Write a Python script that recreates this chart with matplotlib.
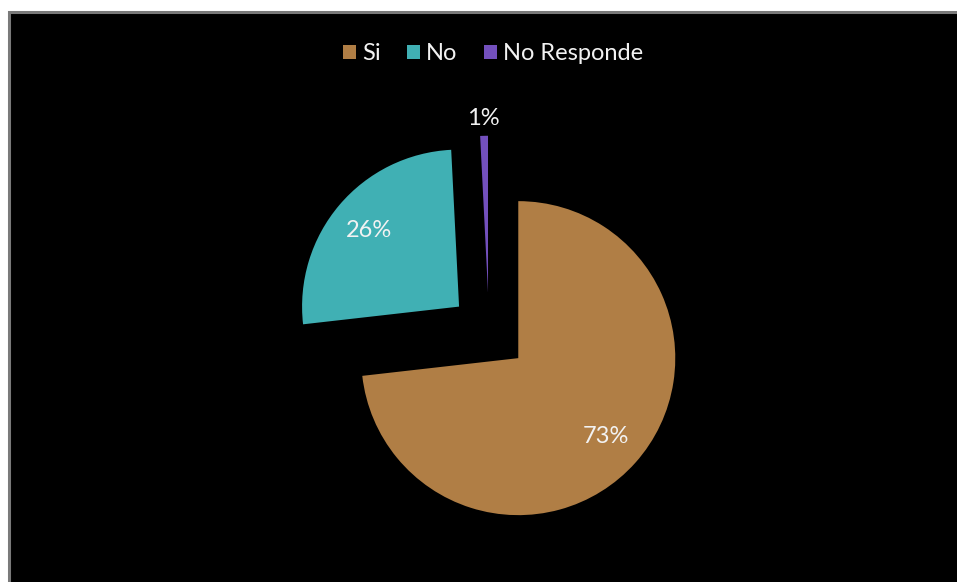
import math
import matplotlib
matplotlib.use("Agg")
import matplotlib.pyplot as plt
from matplotlib.patches import Rectangle

categories = ["Si", "No", "No Responde"]
values = [73.2, 26.0, 0.8]
colors = ["#B07E45", "#40B0B4", "#7350BD"]

W, H = 957, 582
plt.rcParams['font.family'] = ['Lato', 'DejaVu Sans']
fig = plt.figure(figsize=(W / 100, H / 100), dpi=100, facecolor="white")

# dark chart frame
frame = Rectangle((8.5 / W, -0.05), 1.2, (H - 11.5) / H + 0.05, transform=fig.transFigure,
                  facecolor="black", edgecolor="#7a7a7a", linewidth=2.2, zorder=-1)
fig.patches.append(frame)

ax = fig.add_axes([0, 0, 1, 1])
ax.set_zorder(2)
ax.set_xlim(0, W)
ax.set_ylim(0, H)
ax.axis("off")
ax.patch.set_alpha(0)

R = 157
cx, cy = 489, H - 332
expl = 0.25 * R
wedges, texts, autotexts = ax.pie(values, colors=colors, startangle=90, counterclock=False,
                                  radius=R, center=(cx, cy), explode=[expl] * len(values),
                                  autopct='%.0f%%', pctdistance=0.75,
                                  wedgeprops=dict(linewidth=0),
                                  textprops=dict(color="#F2F2F2", fontsize=17))
ax.set_xlim(0, W)
ax.set_ylim(0, H)
ax.set_aspect('auto')
ax.axis("off")

# small slice label outside
w = wedges[2]
thetam = math.radians((w.theta1 + w.theta2) / 2)
wx, wy = w.center
autotexts[2].set_position((wx + 1.11 * R * math.cos(thetam), wy + 1.11 * R * math.sin(thetam)))

leg = fig.legend(wedges, categories, loc="center", bbox_to_anchor=(493 / W, 1 - 54 / H), ncol=3,
                 frameon=False, fontsize=17, labelcolor="#F2F2F2", handlelength=0.55,
                 handleheight=0.55, handletextpad=0.25, columnspacing=1.12)
leg.set_zorder(3)

fig.savefig("out.png", dpi=100, facecolor="white")
